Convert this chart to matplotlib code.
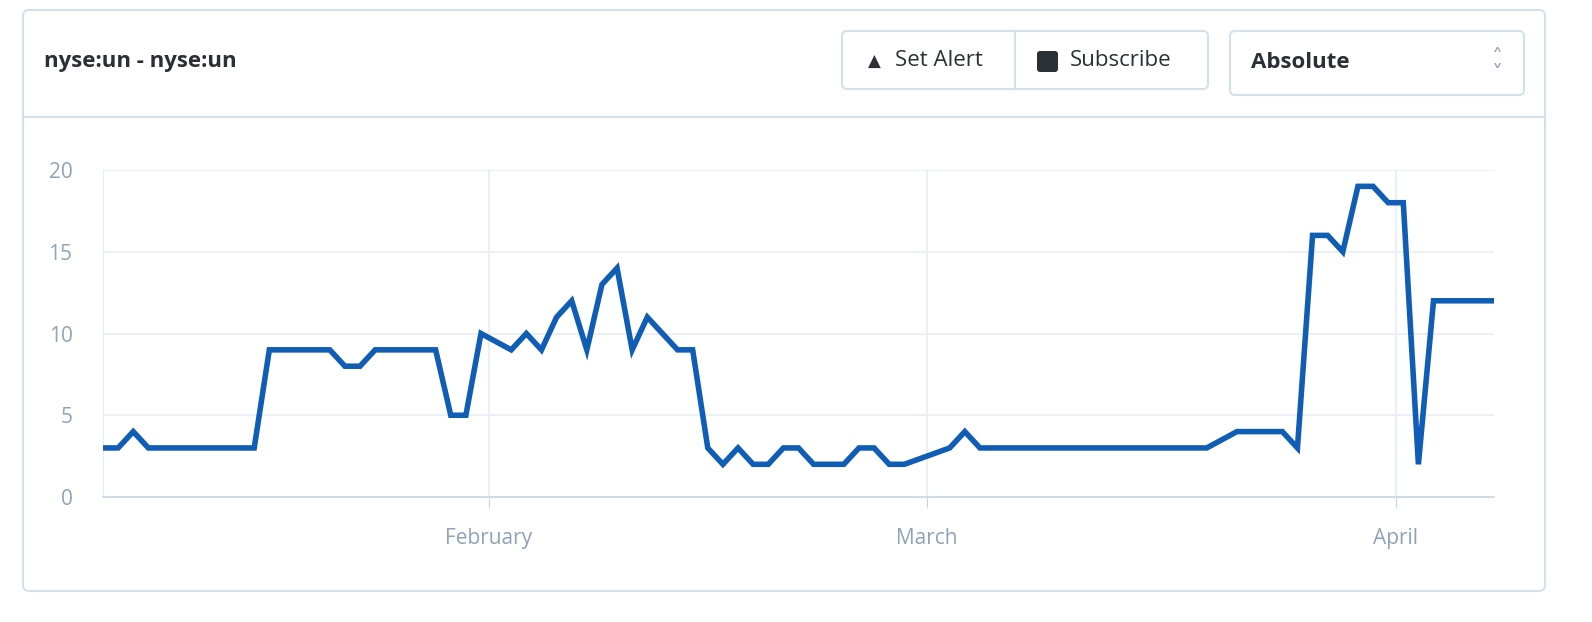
import matplotlib
matplotlib.use("Agg")
import matplotlib.pyplot as plt
from matplotlib.patches import FancyBboxPatch
import datetime as dt

title = "nyse:un - nyse:un"
day_index = [0,1,2,3,10,11,15,16,17,18,22,23,24,25,27,28,29,30,31,32,33,34,35,36,38,39,
             40,41,42,43,44,45,46,47,49,50,51,52,53,56,57,58,73,75,78,79,80,81,82,83,84,85,86,87,88,92]
values = [3,3,4,3,3,9,9,8,8,9,9,5,5,10,9,10,9,11,12,9,13,14,9,11,9,9,
          3,2,3,2,2,3,3,2,2,3,3,2,2,3,4,3,3,4,4,3,16,16,15,19,19,18,18,2,12,12]
start = dt.datetime(2020, 1, 6, 12)
dates = [start + dt.timedelta(days=d) for d in day_index]
month_ticks = [dt.datetime(2020, 2, 1), dt.datetime(2020, 3, 1), dt.datetime(2020, 4, 1)]
month_labels = ["February", "March", "April"]
y_ticks = [0, 5, 10, 15, 20]

W, H = 1592, 622
fig = plt.figure(figsize=(W/100, H/100), dpi=100)
fig.patch.set_facecolor("white")

def fx(x): return x / W
def fy(y): return 1 - y / H

bg = fig.add_axes([0, 0, 1, 1]); bg.set_axis_off(); bg.set_xlim(0, W); bg.set_ylim(H, 0)
border = "#d3e1ec"
txt = "#2b2f36"
bg.add_patch(FancyBboxPatch((23, 10), 1522, 581, boxstyle="round,pad=0,rounding_size=6",
                            fc="white", ec=border, lw=1.5))
bg.plot([23, 1545], [117, 117], color=border, lw=1.5)
bg.text(44, 62, title, fontsize=16, fontweight="bold", color=txt, va="center", family="Open Sans")
bg.add_patch(FancyBboxPatch((842, 31), 366, 58, boxstyle="round,pad=0,rounding_size=5", fc="white", ec=border, lw=1.5))
bg.plot([1015, 1015], [31, 89], color=border, lw=1.5)
bg.text(874, 62, "\u25B2", fontsize=12, color=txt, va="center", ha="center")
bg.text(895, 61, "Set Alert", fontsize=16, color=txt, va="center", family="Open Sans")
bg.add_patch(FancyBboxPatch((1037, 51), 21, 21, boxstyle="round,pad=0,rounding_size=3", fc=txt, ec="none"))
bg.text(1070, 61, "Subscribe", fontsize=16, color=txt, va="center", family="Open Sans")
bg.add_patch(FancyBboxPatch((1230, 31), 294, 64, boxstyle="round,pad=0,rounding_size=5", fc="white", ec=border, lw=1.5))
bg.text(1251, 63, "Absolute", fontsize=16, fontweight="bold", color=txt, va="center", family="Open Sans")
bg.text(1497, 58, "\u02C4", fontsize=16, color="#8fa3b8", va="center", ha="center")
bg.text(1497, 74, "\u02C5", fontsize=16, color="#8fa3b8", va="center", ha="center")

ax = fig.add_axes([fx(103), fy(497), fx(1494 - 103), (497 - 170) / H])
ax.plot(dates, values, color="#0f5db5", lw=4, solid_joinstyle="miter", zorder=3)
ax.set_xlim(start, start + dt.timedelta(days=92))
ax.set_ylim(0, 20)
ax.set_yticks(y_ticks)
ax.set_xticks(month_ticks)
ax.set_xticklabels(month_labels)
ax.grid(True, color="#e6edf3", lw=1.2)
for s in ["top", "right"]:
    ax.spines[s].set_visible(False)
ax.spines["left"].set_color("#e6edf3")
ax.spines["bottom"].set_color("#c9d6e2")
ax.spines["bottom"].set_linewidth(1.2)
ax.tick_params(axis="both", colors="#c9d6e2", labelcolor="#8fa3b8", labelsize=15, length=8)
ax.tick_params(axis="y", length=0, pad=22)
ax.tick_params(axis="x", pad=14)
for lab in ax.get_xticklabels() + ax.get_yticklabels():
    lab.set_family("Open Sans")
fig.savefig("out.png", dpi=100)
